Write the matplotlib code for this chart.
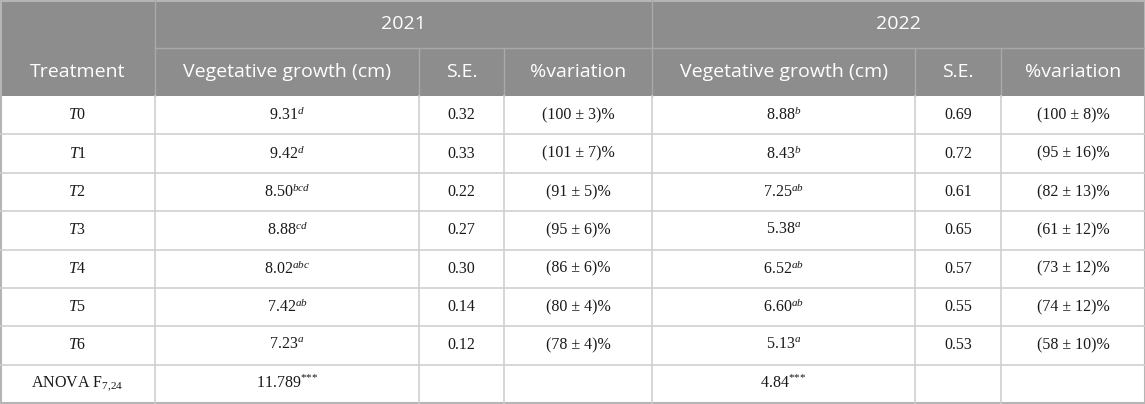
#!/usr/bin/env python3
"""Vegetative growth table (2021 / 2022) drawn with matplotlib."""

import matplotlib

matplotlib.use("Agg")
import matplotlib.pyplot as plt
from matplotlib.patches import Rectangle

# --- data -------------------------------------------------------------
years = ["2021", "2022"]
sub_headers = ["Vegetative growth (cm)", "S.E.", "%variation"]
treatments = ["T0", "T1", "T2", "T3", "T4", "T5", "T6"]

growth_2021 = [9.31, 9.42, 8.50, 8.88, 8.02, 7.42, 7.23]
letters_2021 = ["d", "d", "bcd", "cd", "abc", "ab", "a"]
se_2021 = [0.32, 0.33, 0.22, 0.27, 0.30, 0.14, 0.12]
var_2021 = [100, 101, 91, 95, 86, 80, 78]
var_err_2021 = [3, 7, 5, 6, 6, 4, 4]

growth_2022 = [8.88, 8.43, 7.25, 5.38, 6.52, 6.60, 5.13]
letters_2022 = ["b", "b", "ab", "a", "ab", "ab", "a"]
se_2022 = [0.69, 0.72, 0.61, 0.65, 0.57, 0.55, 0.53]
var_2022 = [100, 95, 82, 61, 73, 74, 58]
var_err_2022 = [8, 16, 13, 12, 12, 12, 10]

anova_label = "ANOVA F"
anova_df = "7{,}24"
anova_f = ["11.789", "4.84"]

# --- layout (pixels) --------------------------------------------------
W, H = 1145, 404
col_edges = [0, 155, 419, 504, 652, 915, 1001, 1145]
head1, head2 = 48, 96
row_h = (403 - head2) / 8

HEAD_BG = "#8d8d8d"
HEAD_LINE = "#a9a9a9"
GRID = "#cfcfcf"
BORDER = "#b5b5b5"
TXT = "#1a1a1a"

plt.rcParams["mathtext.fontset"] = "custom"
plt.rcParams["mathtext.rm"] = "Liberation Serif"
plt.rcParams["mathtext.it"] = "Liberation Serif:italic"
plt.rcParams["mathtext.bf"] = "Liberation Serif:bold"

fig = plt.figure(figsize=(W / 100, H / 100), dpi=100)
ax = fig.add_axes([0, 0, 1, 1])
ax.set_xlim(0, W)
ax.set_ylim(H, 0)
ax.axis("off")

# header background
ax.add_patch(Rectangle((0, 0), W, head2, color=HEAD_BG, lw=0))

hfont = dict(family="Open Sans", size=14, color="white", ha="center", va="center")
bfont = dict(family="Liberation Serif", size=11.5, color=TXT, ha="center", va="center")


def cx(i):
    return (col_edges[i] + col_edges[i + 1]) / 2


# header text
ax.text(cx(0), (head1 + head2) / 2, "Treatment", **hfont)
ax.text((col_edges[1] + col_edges[4]) / 2, head1 / 2, years[0], **hfont)
ax.text((col_edges[4] + col_edges[7]) / 2, head1 / 2, years[1], **hfont)
for k, lab in enumerate(sub_headers):
    ax.text(cx(1 + k), (head1 + head2) / 2, lab, **hfont)
    ax.text(cx(4 + k), (head1 + head2) / 2, lab, **hfont)

# header lines
ax.plot([col_edges[1], W], [head1, head1], color=HEAD_LINE, lw=1)
for x in col_edges[1:-1]:
    y0 = 0 if x in (col_edges[1], col_edges[4]) else head1
    ax.plot([x, x], [y0, head2], color=HEAD_LINE, lw=1)

# body rows
for r, t in enumerate(treatments):
    yc = head2 + row_h * (r + 0.5)
    ax.text(cx(0), yc, f"$T${t[1:]}", **bfont)
    ax.text(cx(1), yc, f"{growth_2021[r]:.2f}$^{{{letters_2021[r]}}}$", **bfont)
    ax.text(cx(2), yc, f"{se_2021[r]:.2f}", **bfont)
    ax.text(cx(3), yc, f"({var_2021[r]} ± {var_err_2021[r]})%", **bfont)
    ax.text(cx(4), yc, f"{growth_2022[r]:.2f}$^{{{letters_2022[r]}}}$", **bfont)
    ax.text(cx(5), yc, f"{se_2022[r]:.2f}", **bfont)
    ax.text(cx(6), yc, f"({var_2022[r]} ± {var_err_2022[r]})%", **bfont)

stars = r"$^{{*}{*}{*}}$"
yc = head2 + row_h * 7.5
ax.text(cx(0), yc, anova_label + r"$_{\mathrm{" + anova_df + "}}$", **bfont)
ax.text(cx(1), yc, anova_f[0] + stars, **bfont)
ax.text(cx(4), yc, anova_f[1] + stars, **bfont)

# body grid
for r in range(1, 8):
    y = head2 + row_h * r
    ax.plot([0, W], [y, y], color=GRID, lw=1.2)
for x in col_edges[1:-1]:
    ax.plot([x, x], [head2, head2 + row_h * 8], color=GRID, lw=1.2)

# outer border
ax.add_patch(Rectangle((0.5, 0.5), W - 1, head2 + row_h * 8 - 0.5,
                       fill=False, edgecolor=BORDER, lw=1.5))

fig.savefig("out.png", dpi=100)
